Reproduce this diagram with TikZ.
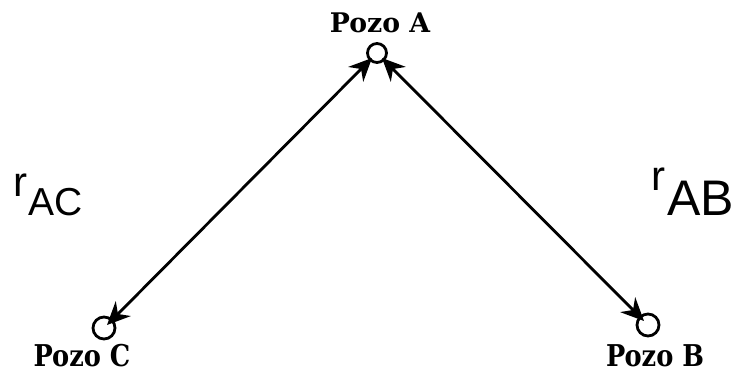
\documentclass[tikz,border=0pt]{standalone}
\usepackage{fontspec}
\setmainfont{Liberation Serif}
\newfontfamily\lblfont[FakeStretch=1.1]{DejaVu Serif Condensed}
\newfontfamily\lblfontb[FakeStretch=0.95]{DejaVu Serif Condensed}
\newfontfamily\symfont{Liberation Sans}
\usetikzlibrary{arrows.meta}
\begin{document}
\begin{tikzpicture}[x=1pt,y=-1pt,
  well/.style={draw,circle,line width=2.8pt,minimum size=22pt,inner sep=0pt},
  pozo/.style={font=\lblfont\bfseries\fontsize{27}{30}\selectfont,inner sep=0pt,anchor=base},
  pozob/.style={font=\lblfontb\bfseries\fontsize{30}{32}\selectfont,inner sep=0pt,text depth=0pt,anchor=base},
  rlbl/.style={font=\symfont,inner sep=0pt,anchor=base west},
  conn/.style={line width=2.8pt,{Stealth[length=23pt,width=21pt]}-{Stealth[length=23pt,width=21pt]}}]
\useasboundingbox (0,0) rectangle (734,372);
\node[well,minimum size=19pt] (A) at (377,53) {};
\node[well] (C) at (104,328) {};
\node[well] (B) at (648,325) {};
\coordinate (Ain1) at (372,58);
\coordinate (Ain2) at (382,58);
\coordinate (Cin) at (107,325);
\coordinate (Bin) at (644,321);
\draw[conn] (Cin) -- (Ain1);
\draw[conn] (Ain2) -- (Bin);
\node[pozo] (lA) at (380,32) {Pozo A};
\node[pozob] (lC) at (82,366) {Pozo C};
\node[pozob] (lB) at (655,366) {Pozo B};
\node[rlbl] (rAC) at (13,196) {\fontsize{42}{44}\selectfont r\kern1pt\raisebox{-19pt}{\fontsize{39}{44}\selectfont AC}};
\node[rlbl] (rAB) at (651,190) {\fontsize{42}{44}\selectfont r\kern2pt\raisebox{-25pt}{\fontsize{50}{54}\selectfont AB}};
\end{tikzpicture}
\end{document}
